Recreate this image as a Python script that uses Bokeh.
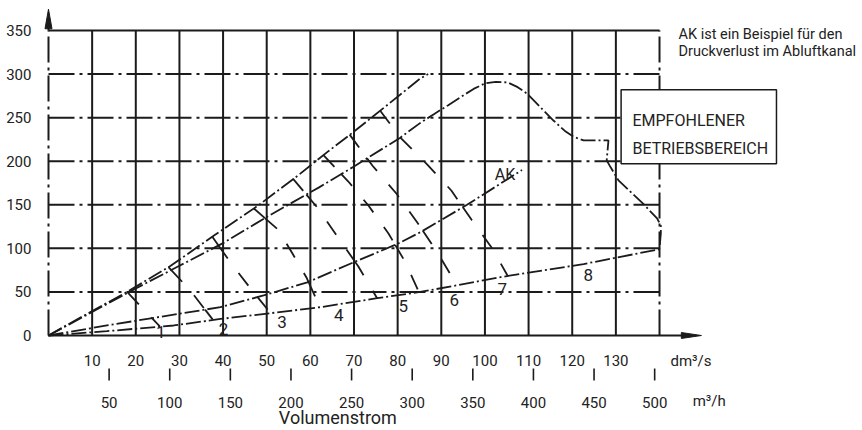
import numpy as np
from bokeh.plotting import figure
from bokeh.models import Range1d
from bokeh.core.properties import value
from bokeh.embed import file_html
from bokeh.resources import INLINE

# ---------------- data ----------------
x_ticks = [10, 20, 30, 40, 50, 60, 70, 80, 90, 100, 110, 120, 130]       # dm3/s
y_ticks = [0, 50, 100, 150, 200, 250, 300, 350]                           # Pa
m3h_ticks = [50, 100, 150, 200, 250, 300, 350, 400, 450, 500]             # m3/h
x_max = 140
y_max = 350

# system curves
U_x = [0, 6, 18, 28, 38, 48, 57, 64, 70, 77, 85.2, 87]
U_y = [0, 17, 50, 80, 115, 149, 183, 211, 234, 262, 295, 300]

L_x = [0, 10, 20, 30, 40, 50, 62, 70, 80.6, 85.2, 88.3, 91.5, 94.4, 97.4, 100.1, 102.5,
       105.2, 107.5, 109.7, 112.5, 115.7, 118.5, 120.3, 122.6, 128.3, 127.9, 128.8, 130.6,
       136.3, 139.5, 140.3, 140.3, 140.0]
L_y = [0, 27, 54, 80, 106, 136, 170, 194, 227, 244, 254, 264, 273.5, 283, 289.5, 291,
       290.5, 285, 277.4, 263, 246.7, 234, 228, 224, 224, 201, 193, 178,
       151, 134, 126, 117, 100]

AK_x = [0, 13.4, 28.7, 39.4, 49.3, 59.3, 69.9, 79.9, 85.2, 95.9, 108.5]
AK_y = [0, 11.5, 24, 32.5, 46, 61, 84, 105, 118.5, 150, 190]

B_x = [0, 13.4, 28.7, 39.4, 50.9, 62.3, 75.3, 85.2, 94, 103.6, 122.6, 140]
B_y = [0, 5, 11.5, 19, 25.6, 32.5, 42.8, 50, 58, 67, 82, 99]

# fan speed lines 1..8 (dashed)
iso_x = [[18, 25.5], [27.5, 32.5, 37.6], [37.5, 41.7, 46.3, 50.9],
         [47, 52.6, 55.9, 59.1, 62.2], [56, 61.5, 66.2, 71, 75.3],
         [63, 68.7, 73.3, 77.9, 81.8, 84.8], [69, 74.2, 79.7, 84.5, 89.1, 93.5],
         [76, 80.6, 86.8, 92.3, 96.9, 101.7, 105.2]]
iso_y = [[50, 10.5], [78.5, 51.6, 18.5], [113.5, 83.8, 53.9, 25.6],
         [146, 121.6, 94.1, 66.6, 32.5], [180, 147.4, 113.6, 79.2, 42.8],
         [207, 176.7, 149.2, 117.1, 83.8, 50.5], [230.5, 195.1, 163, 129.7, 95.3, 58.5],
         [258, 227.2, 196.2, 166.4, 133.1, 99.8, 68.5]]
iso_labels = ["1", "2", "3", "4", "5", "6", "7", "8"]
iso_label_x = [25.7, 40.1, 53.5, 66.5, 81.3, 93.0, 104.0, 123.7]
iso_label_y = [4.5, 7.5, 15.3, 23, 33.3, 41.3, 52.8, 70]

ak_label = "AK"
ak_label_pos = (104.6, 185.3)

note_lines = ["AK ist ein Beispiel für den", "Druckverlust im Abluftkanal"]
box_lines = ["EMPFOHLENER", "BETRIEBSBEREICH"]
x_title = "Volumenstrom"
unit_dm3s = "dm³/s"
unit_m3h = "m³/h"

# ---------------- helpers ----------------
XS, YS = 4.3643, 0.87143   # px per data unit (for tiny-piece filtering only)


def crossings(px_, py_, qx_, qy_):
    out = []
    for i in range(len(px_) - 1):
        rx, ry = px_[i + 1] - px_[i], py_[i + 1] - py_[i]
        for j in range(len(qx_) - 1):
            sx, sy = qx_[j + 1] - qx_[j], qy_[j + 1] - qy_[j]
            den = rx * sy - ry * sx
            if abs(den) < 1e-12:
                continue
            dx, dy = qx_[j] - px_[i], qy_[j] - py_[i]
            t = (dx * sy - dy * sx) / den
            u = (dx * ry - dy * rx) / den
            if 0 < t < 1 and 0 <= u <= 1:
                out.append(i + t)
    return out


def point_at(xs, ys, s):
    i = min(int(np.floor(s)), len(xs) - 2)
    f = s - i
    return xs[i] + f * (xs[i + 1] - xs[i]), ys[i] + f * (ys[i + 1] - ys[i])


def split_line(xs, ys, cuts):
    n = len(xs) - 1
    marks = sorted(set([0.0] + [c for c in cuts if 0 < c < n] + [float(n)]))
    pieces = []
    for a, b in zip(marks[:-1], marks[1:]):
        ax, ay = point_at(xs, ys, a)
        bx, by = point_at(xs, ys, b)
        if np.hypot((bx - ax) * XS, (by - ay) * YS) < 3:
            continue
        px_, py_ = [ax], [ay]
        for k in range(len(xs)):
            if a < k < b:
                px_.append(xs[k]); py_.append(ys[k])
        px_.append(bx); py_.append(by)
        pieces.append((px_, py_))
    return pieces


# ---------------- figure ----------------
FONT = value("Roboto")
INK = "#1b1b1b"
TXT = "#222222"

p = figure(width=862, height=430, x_range=Range1d(-10.998, 186.51), y_range=Range1d(-109.01, 384.43),
           x_axis_type=None, y_axis_type=None, toolbar_location=None, output_backend="svg",
           min_border=0, outline_line_color=None, background_fill_color="white",
           border_fill_color="white")

gdash = "26 5 3 5"
cdash = "15 3 2 3"

# vertical grid lines (solid)
p.segment(x0=x_ticks, y0=[0] * len(x_ticks), x1=x_ticks, y1=[y_max] * len(x_ticks),
          line_color=INK, line_width=2)
# horizontal grid lines (dash-dot)
hy = [v for v in y_ticks if 0 < v < y_max]
p.segment(x0=[0] * len(hy), y0=hy, x1=[x_max] * len(hy), y1=hy,
          line_color=INK, line_width=2, line_dash=gdash)
# left axis and right border (dash-dot)
p.segment(x0=[0, x_max], y0=[0, 0], x1=[0, x_max], y1=[y_max, y_max],
          line_color=INK, line_width=2, line_dash=gdash)
# top border (solid)
p.segment(x0=[0], y0=[y_max], x1=[x_max], y1=[y_max], line_color=INK, line_width=2)
# bottom axis with arrow
arrow_len_x = 4.6
p.segment(x0=[0], y0=[0], x1=[x_max + 5.5], y1=[0], line_color=INK, line_width=2)
tip_x = x_max + 5.0 + arrow_len_x
p.patch(x=[tip_x, tip_x - arrow_len_x, tip_x - arrow_len_x], y=[0, 3.4, -3.4],
        fill_color=INK, line_color=INK, line_width=1)
# left axis arrow
p.segment(x0=[0], y0=[y_max], x1=[0], y1=[y_max + 3], line_color=INK, line_width=2)
tip_y = y_max + 24.5
p.patch(x=[0, -0.8, 0.8], y=[tip_y, y_max + 2, y_max + 2], fill_color=INK, line_color=INK, line_width=1)

# system curves
for xs, ys in [(U_x, U_y), (L_x, L_y), (AK_x, AK_y), (B_x, B_y)]:
    p.line(xs, ys, line_color=INK, line_width=1.8, line_dash=cdash)

# fan speed lines: dashes restart at every crossing with a system curve
piece_xs, piece_ys = [], []
for xs, ys in zip(iso_x, iso_y):
    cuts = crossings(xs, ys, L_x, L_y) + crossings(xs, ys, AK_x, AK_y)
    for a, b in split_line(xs, ys, cuts):
        piece_xs.append(a); piece_ys.append(b)
p.multi_line(piece_xs, piece_ys, line_color=INK, line_width=1.8, line_dash="16 18")

# labels on curves
p.text(x=iso_label_x, y=iso_label_y, text=iso_labels, text_font=FONT, text_font_size="17px",
       text_color=TXT, text_align="center", text_baseline="middle")
p.text(x=[ak_label_pos[0]], y=[ak_label_pos[1]], text=[ak_label], text_font=FONT,
       text_font_size="16px", text_color=TXT, text_align="center", text_baseline="middle")

# y tick labels
p.text(x=[-3.9] * len(y_ticks), y=y_ticks, text=[str(v) for v in y_ticks], text_font=FONT,
       text_font_size="15px", text_color=TXT, text_align="right", text_baseline="middle")
# x tick labels (dm3/s)
p.text(x=x_ticks, y=[-28.7] * len(x_ticks), text=[str(v) for v in x_ticks], text_font=FONT,
       text_font_size="15px", text_color=TXT, text_align="center", text_baseline="alphabetic")
# m3/h secondary scale
m3h_x = [v / 3.6 for v in m3h_ticks]
p.segment(x0=m3h_x, y0=[-37.9] * len(m3h_x), x1=m3h_x, y1=[-51.6] * len(m3h_x),
          line_color=INK, line_width=1.6)
p.text(x=m3h_x, y=[-76.8] * len(m3h_x), text=[str(v) for v in m3h_ticks], text_font=FONT,
       text_font_size="15px", text_color=TXT, text_align="center", text_baseline="alphabetic")
# units
p.text(x=[142.5], y=[-29.8], text=[unit_dm3s], text_font=FONT, text_font_size="15px",
       text_color=TXT, text_align="left", text_baseline="alphabetic")
p.text(x=[147.6], y=[-75.7], text=[unit_m3h], text_font=FONT, text_font_size="15px",
       text_color=TXT, text_align="left", text_baseline="alphabetic")
# axis title
p.text(x=[66.3], y=[-94.0], text=[x_title], text_font=FONT, text_font_size="18px",
       text_color=TXT, text_align="center", text_baseline="middle")

# note (top right)
p.text(x=[144.35, 144.35], y=[345.4, 326.0], text=note_lines, text_font=FONT,
       text_font_size="14.5px", text_color=TXT, text_align="left", text_baseline="alphabetic")

# recommended operating range box
p.quad(left=[131.2], right=[166.8], bottom=[197], top=[282], fill_color="white",
       line_color=INK, line_width=1.5)
p.text(x=[133.8, 133.8], y=[246.7, 214.6], text=box_lines, text_font=FONT,
       text_font_size="16px", text_color=TXT, text_align="left", text_baseline="alphabetic")

open("out.html", "w").write(file_html(p, INLINE))
